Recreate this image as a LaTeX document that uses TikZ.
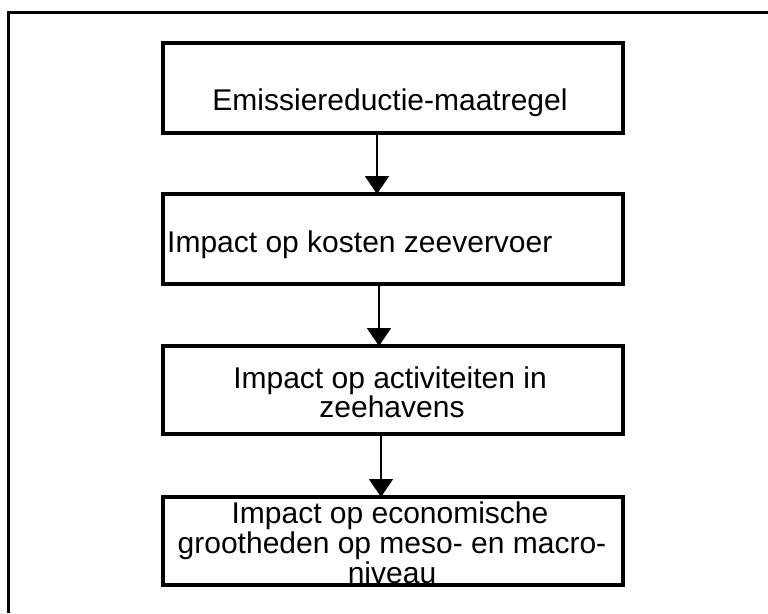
\documentclass[tikz,border=0pt]{standalone}
\usepackage{fontspec}
\setmainfont{Liberation Sans}
\usetikzlibrary{arrows.meta}
\begin{document}
\begin{tikzpicture}[x=1pt,y=-1pt,
  box/.style={draw,line width=4pt,inner sep=0pt,outer sep=0pt,minimum width=460pt},
  txt/.style={inner sep=0pt,anchor=base,font=\fontsize{30}{30}\selectfont},
  flow/.style={line width=1.8pt,-{Triangle[width=24pt,length=18pt]}}]
\useasboundingbox (0,0) rectangle (768,613);
\coordinate (f1) at (768,12);
\coordinate (f2) at (8,12);
\coordinate (f3) at (8,613);
\draw[line width=3pt] (f1) -- (f2) -- (f3);
\node[box,minimum height=90pt] (b1) at (393,88) {};
\node[box,minimum height=90pt] (b2) at (393,239) {};
\node[box,minimum height=88pt] (b3) at (393,390) {};
\node[box,minimum height=88pt] (b4) at (393,541) {};
\node[txt] (t1) at (390,110) {Emissiereductie-maatregel};
\node[txt,anchor=base west] (t2) at (167,252) {Impact op kosten zeevervoer};
\node[txt] (t3a) at (390,388) {Impact op activiteiten in};
\node[txt] (t3b) at (392,417) {zeehavens};
\node[txt] (t4a) at (390,523) {Impact op economische};
\node[txt] (t4b) at (392,553) {grootheden op meso- en macro-};
\node[txt] (t4c) at (392,583) {niveau};
\draw[flow] ([xshift=-16pt]b1.south) -- ([xshift=-16pt]b2.north);
\draw[flow] ([xshift=-14pt]b2.south) -- ([xshift=-14pt]b3.north);
\draw[flow] ([xshift=-12pt]b3.south) -- ([xshift=-12pt]b4.north);
\end{tikzpicture}
\end{document}
